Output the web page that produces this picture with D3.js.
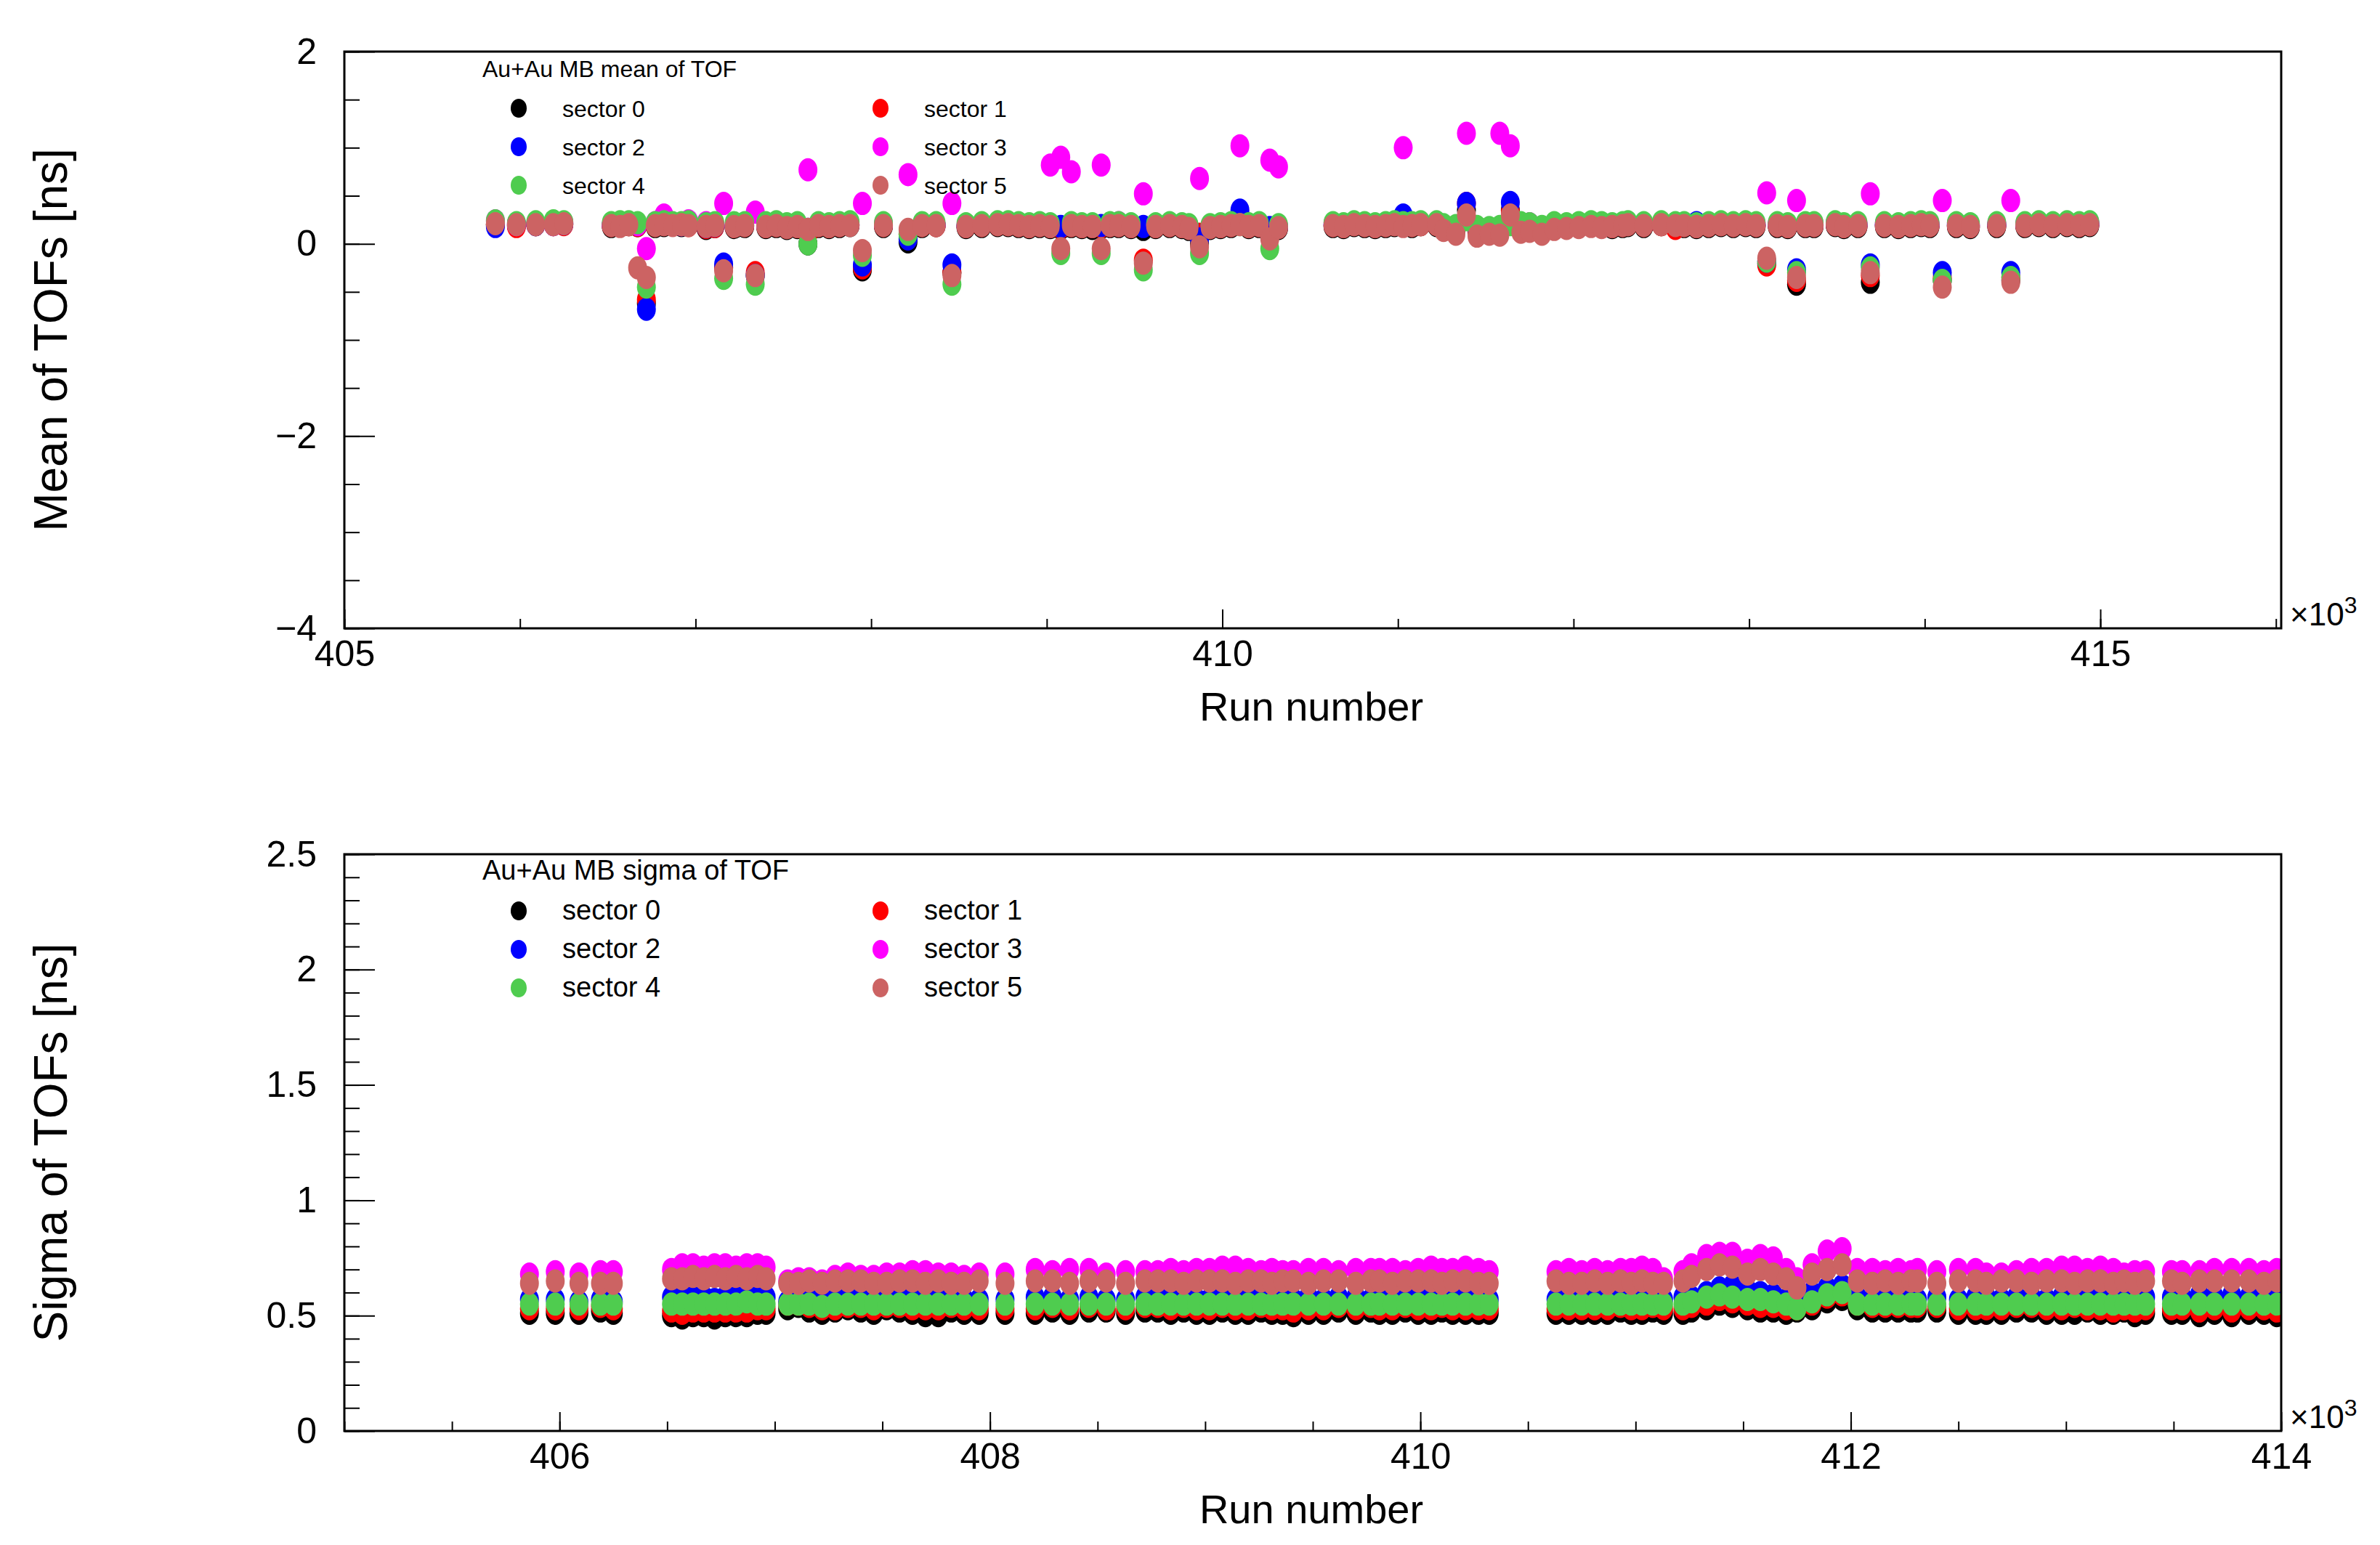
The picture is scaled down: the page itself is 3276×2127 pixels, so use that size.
<!DOCTYPE html>
<html>
<head>
<meta charset="utf-8">
<script src="https://cdn.jsdelivr.net/npm/d3@7"></script>
<style>
  body { margin: 0; background: #fff; }
  text { font-family: "Liberation Sans", Arial, sans-serif; }
</style>
</head>
<body>
<svg id="chart" width="3276" height="2127"></svg>
<script>
// run numbers in units of 10^3
const runs = [
  405.86,405.98,406.09,406.19,406.25,
  406.52,406.57,406.62,406.67,406.72,406.77,406.82,406.87,406.92,406.96,
  407.06,407.11,407.16,407.22,407.28,407.34,407.40,407.46,407.52,407.58,407.64,407.70,407.76,407.82,407.88,
  407.95,408.07,
  408.21,408.29,408.37,408.46,
  408.54,408.63,408.72,
  408.78,408.84,408.90,408.96,409.02,409.08,409.14,409.20,409.26,409.31,409.36,
  409.41,409.48,409.55,409.62,409.70,409.77,
  409.81,409.87,409.93,409.99,410.05,410.10,410.15,410.21,410.27,410.32,
  410.63,410.69,410.75,410.81,410.87,410.93,410.98,411.03,411.08,
  411.13,411.22,
  411.26,411.33,411.39,411.45,411.52,411.58,411.64,411.70,
  411.75,411.82,411.89,411.96,412.03,412.10,412.16,412.22,412.28,
  412.31,412.40,412.50,412.58,
  412.63,412.70,412.77,412.84,412.91,412.98,413.04,413.10,413.16,413.22,413.27,413.32,
  413.37,413.49,
  413.54,413.62,413.69,413.77,413.85,413.92,413.98,
  414.03,414.10,414.18,414.26,
  414.41,414.49,414.57,414.65,414.73,414.81,414.88,414.94
];

// mean of TOF [ns], one array per sector
const mean0 = [
  .2,.19,.2,.2,.21,
  .18,.19,.2,.19,-.62,.18,.19,.2,.19,.2,
  .16,.18,-.25,.17,.18,-.33,.17,.18,.16,.17,.0,.18,.17,.18,.19,
  -.27,.18,
  .02,.18,.19,-.3,
  .17,.18,.19,
  .19,.18,.17,.18,.17,.16,.18,.17,.16,.17,.18,
  .18,.17,.15,.17,.18,.17,
  .15,.0,.16,.17,.18,.3,.17,.18,.15,.16,
  .18,.17,.19,.18,.17,.18,.19,.25,.18,
  .2,.19,
  .15,.14,.35,.13,.12,.13,.35,.15,
  .16,.14,.18,.17,.18,.19,.18,.17,.18,
  .19,.18,.2,.19,
  .18,.17,.18,.19,.18,.19,.18,-.2,.18,.17,-.42,.18,
  .18,.19,
  .17,.18,-.4,.18,.17,.18,.19,
  .18,-.38,.18,.17,
  .18,-.38,.18,.19,.18,.19,.18,.19
];
const mean1 = [
  .2,.18,.2,.21,.2,
  .19,.2,.2,.19,-.58,.19,.2,.2,.2,.19,
  .17,.18,-.25,.18,.19,-.3,.18,.19,.17,.18,.1,.19,.18,.19,.2,
  -.25,.19,
  .1,.19,.19,-.3,
  .18,.19,.2,
  .2,.19,.18,.19,.18,.17,.19,.18,.18,.18,.19,
  .19,.18,-.17,.18,.19,.18,
  .17,.1,.17,.18,.19,.3,.18,.19,.16,.17,
  .19,.18,.2,.19,.18,.19,.2,.28,.19,
  .2,.2,
  .16,.15,.42,.14,.13,.14,.33,.16,
  .17,.15,.19,.18,.19,.2,.19,.18,.19,
  .2,.19,.2,.16,
  .19,.18,.19,.2,.19,.2,.19,-.22,.19,.18,-.38,.19,
  .19,.2,
  .18,.19,-.33,.19,.18,.19,.2,
  .19,-.35,.19,.18,
  .19,-.35,.19,.2,.19,.2,.19,.2
];
const mean2 = [
  .18,.21,.2,.21,.21,
  .2,.21,.22,.2,-.68,.2,.21,.21,.2,.21,
  .18,.19,-.21,.19,.2,-.33,.19,.2,.19,.19,.15,.2,.19,.2,.2,
  -.22,.2,
  .05,.2,.2,-.22,
  .19,.2,.21,
  .21,.2,.19,.2,.19,.18,.2,.19,.19,.19,.2,
  .2,.19,.18,.19,.2,.19,
  .18,.05,.18,.19,.2,.35,.19,.2,.17,.18,
  .2,.19,.21,.2,.19,.2,.21,.3,.2,
  .21,.21,
  .18,.17,.42,.16,.15,.16,.43,.18,
  .18,.16,.2,.19,.2,.21,.2,.19,.2,
  .21,.2,.21,.2,
  .2,.22,.2,.21,.2,.21,.2,-.18,.2,.19,-.27,.2,
  .2,.21,
  .19,.2,-.22,.2,.19,.2,.21,
  .2,-.3,.2,.19,
  .2,-.3,.2,.21,.2,.21,.2,.21
];
const mean3 = [
  .24,.2,.21,.2,.22,
  .2,.21,.22,.2,-.05,.22,.3,.21,.2,.24,
  .22,.2,.42,.2,.21,.33,.2,.21,.2,.2,.77,.21,.2,.21,.21,
  .42,.21,
  .72,.21,.2,.42,
  .2,.21,.22,
  .22,.21,.2,.21,.82,.9,.75,.2,.2,.82,.21,
  .22,.2,.52,.2,.21,.2,
  .19,.68,.19,.2,.21,1.02,.2,.21,.87,.8,
  .21,.2,.22,.21,.2,.21,.22,1.0,.21,
  .22,.22,
  .19,.18,1.15,.17,.16,1.15,1.02,.19,
  .21,.17,.21,.2,.21,.22,.21,.2,.21,
  .22,.21,.22,.21,
  .21,.2,.21,.22,.21,.22,.21,.53,.21,.2,.45,.21,
  .21,.22,
  .2,.21,.52,.21,.2,.21,.22,
  .21,.45,.21,.2,
  .21,.45,.21,.22,.21,.22,.21,.22
];
const mean4 = [
  .24,.22,.23,.24,.23,
  .22,.23,.23,.22,-.45,.22,.23,.22,.22,.23,
  .21,.22,-.36,.22,.22,-.42,.22,.23,.21,.22,.0,.22,.21,.22,.23,
  -.12,.22,
  .1,.22,.22,-.42,
  .21,.22,.23,
  .23,.22,.21,.22,.21,-.1,.22,.21,.21,-.1,.22,
  .22,.21,-.27,.21,.22,.21,
  .2,-.1,.2,.21,.22,.2,.21,.22,-.05,.2,
  .22,.21,.23,.22,.21,.22,.23,.22,.22,
  .23,.23,
  .2,.19,.25,.18,.17,.18,.2,.22,
  .21,.18,.22,.21,.22,.23,.22,.21,.22,
  .23,.22,.23,.22,
  .22,.21,.22,.23,.22,.23,.22,-.18,.22,.21,-.3,.22,
  .22,.23,
  .21,.22,-.25,.22,.21,.22,.23,
  .22,-.38,.22,.21,
  .22,-.35,.22,.23,.22,.23,.22,.23
];
const mean5 = [
  .21,.2,.2,.2,.21,
  .19,.18,.2,-.25,-.35,.19,.2,.19,.2,.19,
  .18,.19,-.28,.18,.19,-.33,.18,.19,.17,.18,.15,.19,.18,.19,.19,
  -.07,.19,
  .15,.19,.19,-.33,
  .18,.19,.2,
  .2,.19,.18,.19,.18,-.05,.19,.18,.18,-.05,.19,
  .19,.18,-.2,.18,.19,.18,
  .16,-.03,.17,.18,.19,.2,.18,.19,.05,.17,
  .19,.18,.2,.19,.18,.19,.2,.18,.19,
  .2,.2,
  .14,.1,.3,.08,.1,.09,.3,.12,
  .13,.1,.15,.16,.17,.18,.17,.18,.19,
  .2,.19,.2,.19,
  .19,.18,.19,.2,.19,.2,.19,-.15,.19,.18,-.35,.19,
  .19,.2,
  .18,.19,-.3,.19,.18,.19,.2,
  .19,-.45,.19,.18,
  .19,-.4,.19,.2,.19,.2,.19,.2
];

// sigma of TOF [ns], one array per sector
const sig0 = [
  .51,.51,.51,.52,.51,
  .50,.49,.50,.50,.49,.50,.50,.50,.51,.51,
  .53,.54,.52,.51,.52,.53,.52,.51,.53,.52,.51,.50,.50,.52,.51,
  .51,.51,
  .51,.52,.51,.52,
  .52,.51,.52,
  .52,.51,.52,.51,.51,.52,.51,.51,.52,.51,.51,
  .50,.51,.51,.52,.51,.52,
  .51,.51,.52,.51,.51,.52,.51,.51,.51,.51,
  .51,.51,.51,.51,.51,.52,.51,.51,.52,
  .51,.51,
  .52,.53,.55,.54,.53,.52,.52,.51,
  .52,.53,.56,.57,.53,.52,.52,.52,.52,
  .52,.52,.51,.51,
  .51,.51,.52,.52,.51,.51,.51,.52,.51,.51,.52,.50,
  .51,.51,
  .51,.50,.51,.50,.51,.51,.50,
  .51,.50,.51,.51,
  .51,.51,.50,.51,.51,.50,.51,.51
];
const sig1 = [
  .53,.53,.53,.54,.53,
  .52,.51,.52,.52,.52,.52,.52,.52,.53,.53,
  .55,.55,.54,.53,.53,.54,.54,.53,.54,.54,.53,.53,.53,.54,.53,
  .53,.53,
  .53,.54,.53,.54,
  .53,.53,.54,
  .54,.53,.54,.53,.53,.54,.53,.53,.54,.53,.53,
  .52,.53,.53,.54,.53,.54,
  .53,.53,.54,.53,.53,.54,.53,.53,.53,.53,
  .53,.53,.53,.53,.53,.54,.53,.53,.54,
  .53,.53,
  .54,.55,.57,.56,.55,.54,.54,.53,
  .53,.55,.58,.59,.55,.54,.54,.54,.54,
  .54,.54,.53,.53,
  .53,.53,.54,.54,.53,.53,.54,.53,.53,.52,.53,.52,
  .53,.53,
  .53,.52,.53,.52,.53,.53,.52,
  .53,.52,.53,.53,
  .53,.53,.52,.53,.53,.52,.53,.53
];
const sig2 = [
  .57,.57,.56,.57,.56,
  .58,.58,.58,.58,.57,.58,.58,.57,.58,.58,
  .56,.57,.57,.56,.57,.58,.57,.57,.58,.58,.57,.57,.58,.57,.57,
  .57,.57,
  .58,.58,.57,.58,
  .57,.57,.58,
  .58,.57,.58,.57,.57,.58,.57,.58,.58,.57,.57,
  .57,.58,.57,.58,.58,.57,
  .58,.57,.58,.58,.57,.58,.58,.57,.57,.57,
  .57,.58,.57,.58,.57,.58,.58,.57,.58,
  .57,.58,
  .58,.60,.62,.63,.61,.60,.59,.57,
  .56,.60,.62,.63,.58,.57,.57,.57,.57,
  .57,.58,.57,.58,
  .58,.57,.58,.58,.57,.58,.58,.58,.57,.58,.58,.57,
  .58,.58,
  .58,.59,.58,.59,.58,.59,.58,
  .58,.59,.58,.59,
  .59,.58,.59,.58,.59,.58,.58,.58
];
const sig3 = [
  .68,.69,.68,.69,.69,
  .70,.72,.72,.71,.72,.72,.71,.72,.72,.71,
  .65,.66,.66,.65,.67,.68,.67,.67,.68,.68,.69,.69,.68,.68,.67,
  .68,.68,
  .70,.69,.70,.70,
  .68,.69,.69,
  .69,.70,.69,.70,.70,.71,.71,.70,.69,.70,.69,
  .69,.70,.70,.69,.70,.70,
  .70,.70,.69,.70,.71,.70,.70,.71,.70,.69,
  .69,.70,.69,.70,.69,.70,.70,.71,.70,
  .66,.69,
  .72,.76,.77,.77,.74,.76,.75,.70,
  .66,.72,.78,.79,.70,.70,.69,.70,.69,
  .70,.69,.70,.70,
  .68,.68,.69,.70,.70,.71,.71,.70,.71,.70,.68,.69,
  .69,.69,
  .69,.69,.70,.70,.70,.69,.70,
  .70,.71,.70,.70,
  .70,.71,.71,.70,.71,.70,.69,.70
];
const sig4 = [
  .55,.55,.55,.55,.55,
  .55,.55,.55,.55,.55,.55,.55,.56,.55,.55,
  .55,.55,.55,.54,.55,.55,.55,.55,.55,.55,.55,.55,.55,.55,.55,
  .55,.55,
  .55,.55,.55,.55,
  .55,.55,.55,
  .55,.55,.55,.55,.55,.55,.55,.55,.55,.55,.55,
  .55,.55,.55,.55,.55,.55,
  .55,.55,.55,.55,.55,.55,.55,.55,.55,.55,
  .55,.55,.55,.55,.55,.55,.55,.55,.55,
  .55,.55,
  .56,.58,.59,.58,.57,.57,.56,.55,
  .53,.56,.59,.60,.55,.55,.55,.55,.55,
  .55,.55,.55,.55,
  .55,.55,.55,.55,.55,.55,.55,.55,.55,.55,.55,.55,
  .55,.55,
  .55,.55,.55,.55,.55,.55,.55,
  .55,.55,.55,.55,
  .55,.55,.55,.55,.55,.55,.55,.55
];
const sig5 = [
  .64,.65,.64,.64,.64,
  .66,.66,.67,.66,.67,.66,.67,.66,.67,.66,
  .64,.64,.65,.64,.65,.65,.65,.64,.64,.65,.65,.64,.65,.64,.64,
  .65,.64,
  .65,.65,.64,.65,
  .65,.64,.65,
  .65,.65,.64,.65,.65,.65,.64,.65,.65,.64,.65,
  .65,.64,.65,.65,.64,.65,
  .65,.64,.65,.65,.65,.64,.65,.65,.64,.64,
  .65,.64,.64,.65,.64,.65,.64,.65,.64,
  .64,.65,
  .67,.70,.72,.71,.68,.70,.68,.66,
  .62,.68,.70,.72,.65,.64,.65,.64,.65,
  .65,.64,.65,.65,
  .64,.65,.65,.64,.65,.65,.64,.65,.65,.64,.65,.64,
  .65,.65,
  .64,.65,.65,.65,.65,.64,.65,
  .65,.65,.64,.65,
  .65,.64,.65,.65,.64,.65,.65,.64
];

const sectorNames = ["sector 0","sector 1","sector 2","sector 3","sector 4","sector 5"];
const sectorColors = ["#000000","#ff0000","#0000ff","#ff00ff","#4fcc4f","#cc6363"];
const meanSeries = [mean0, mean1, mean2, mean3, mean4, mean5];
const sigSeries = [sig0, sig1, sig2, sig3, sig4, sig5];

const svg = d3.select("#chart");
const left = 474, right = 3140;

function panel(o) {
  const x = d3.scaleLinear().domain(o.xDomain).range([left, right]);
  const y = d3.scaleLinear().domain(o.yDomain).range([o.bottom, o.top]);
  const g = svg.append("g");

  g.append("clipPath").attr("id", o.id)
    .append("rect").attr("x", left).attr("y", o.top)
    .attr("width", right - left).attr("height", o.bottom - o.top);

  // points
  const pts = g.append("g").attr("clip-path", `url(#${o.id})`);
  o.series.forEach((vals, s) => {
    pts.selectAll(null).data(runs.map((r, i) => [r, vals[i]]))
      .enter().append("ellipse")
      .attr("cx", d => x(d[0])).attr("cy", d => y(d[1]))
      .attr("rx", 13).attr("ry", 16)
      .attr("fill", sectorColors[s]);
  });

  // axes (ROOT style: ticks inside the frame)
  const tickStyle = sel => {
    sel.select(".domain").remove();
    sel.selectAll("line").attr("stroke", "#000").attr("stroke-width", 2);
    sel.selectAll("text").attr("font-size", 50).attr("fill", "#000")
      .style("font-family", '"Liberation Sans", Arial, sans-serif');
  };
  g.append("g").attr("transform", `translate(0,${o.bottom})`)
    .call(d3.axisBottom(x).tickValues(o.xMinor).tickSize(-13).tickFormat(""))
    .call(tickStyle);
  g.append("g").attr("transform", `translate(0,${o.bottom})`)
    .call(d3.axisBottom(x).tickValues(o.xMajor).tickSizeInner(-26).tickSizeOuter(0)
      .tickPadding(16).tickFormat(d3.format("d")))
    .call(tickStyle);
  g.append("g").attr("transform", `translate(${left},0)`)
    .call(d3.axisLeft(y).tickValues(o.yMinor).tickSize(-21).tickFormat(""))
    .call(tickStyle);
  g.append("g").attr("transform", `translate(${left},0)`)
    .call(d3.axisLeft(y).tickValues(o.yMajor).tickSizeInner(-42).tickSizeOuter(0)
      .tickPadding(38).tickFormat(o.yFormat))
    .call(tickStyle);

  g.append("rect").attr("x", left).attr("y", o.top)
    .attr("width", right - left).attr("height", o.bottom - o.top)
    .attr("fill", "none").attr("stroke", "#000").attr("stroke-width", 3);

  // titles
  g.append("text").attr("x", 1805).attr("y", o.bottom + 127)
    .attr("text-anchor", "middle").attr("font-size", 56).text("Run number");
  g.append("text").attr("transform", `translate(92,${(o.top + o.bottom) / 2}) rotate(-90)`)
    .attr("text-anchor", "middle").attr("font-size", 64).text(o.yTitle);
  const e = g.append("text").attr("x", 3152).attr("y", o.bottom - 4).attr("font-size", 44);
  e.append("tspan").text("×10");
  e.append("tspan").attr("font-size", 32).attr("dy", -17).text("3");

  // legend
  g.append("text").attr("x", 664).attr("y", o.top + 35)
    .attr("font-size", o.headSize).text(o.legendTitle);
  sectorNames.forEach((n, i) => {
    const cx = i % 2 === 0 ? 714 : 1212;
    const cy = o.top + 78 + Math.floor(i / 2) * 53;
    g.append("ellipse").attr("cx", cx).attr("cy", cy).attr("rx", 11).attr("ry", 13)
      .attr("fill", sectorColors[i]);
    g.append("text").attr("x", cx + 60).attr("y", cy + 12)
      .attr("font-size", o.itemSize).text(n);
  });
}

panel({
  id: "clipTop", top: 71, bottom: 865,
  xDomain: [405, 416.03], yDomain: [-4, 2],
  xMajor: [405, 410, 415], xMinor: d3.range(405, 416.01, 1),
  yMajor: [-4, -2, 0, 2], yMinor: d3.range(-4, 2.01, 0.5),
  yFormat: d => d < 0 ? "\u2212" + Math.abs(d) : d,
  series: meanSeries, yTitle: "Mean of TOFs [ns]",
  legendTitle: "Au+Au MB mean of TOF", headSize: 32, itemSize: 32
});
panel({
  id: "clipBot", top: 1176, bottom: 1970,
  xDomain: [405, 414], yDomain: [0, 2.5],
  xMajor: [406, 408, 410, 412, 414], xMinor: d3.range(405, 414.01, 0.5),
  yMajor: [0, 0.5, 1, 1.5, 2, 2.5], yMinor: d3.range(0, 2.51, 0.1),
  yFormat: d => d3.format("~g")(d),
  series: sigSeries, yTitle: "Sigma of TOFs [ns]",
  legendTitle: "Au+Au MB sigma of TOF", headSize: 38, itemSize: 38
});
</script>
</body>
</html>
